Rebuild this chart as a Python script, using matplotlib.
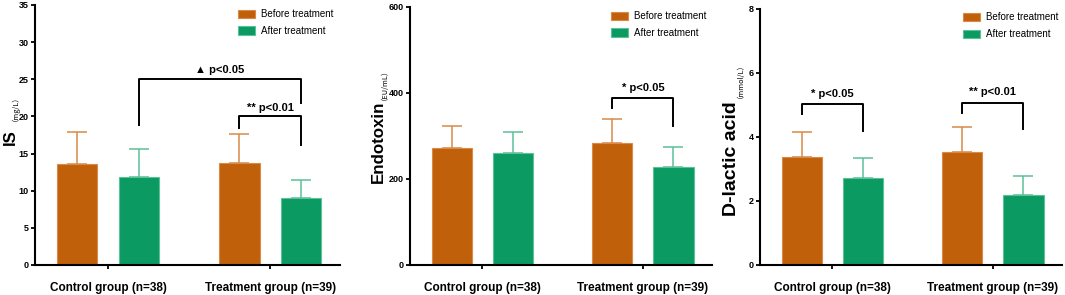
import numpy as np
import matplotlib.pyplot as plt

plt.rcParams['font.family'] = ['Liberation Sans', 'DejaVu Sans']

# ---- data ----
groups = ["Control group (n=38)", "Treatment group (n=39)"]
series = ["Before treatment", "After treatment"]

is_before = [13.6, 13.7]
is_before_sd = [4.3, 3.9]
is_after = [11.8, 9.0]
is_after_sd = [3.8, 2.4]

endo_before = [271, 284]
endo_before_sd = [53, 55]
endo_after = [261, 227]
endo_after_sd = [49, 47]

dla_before = [3.37, 3.54]
dla_before_sd = [0.78, 0.77]
dla_after = [2.71, 2.18]
dla_after_sd = [0.62, 0.60]

orange = "#C0600A"
green = "#0A9A62"
orange_edge = "#D98A48"
green_edge = "#5CC09A"

fig = plt.figure(figsize=(10.65, 2.95), dpi=100)

# axes rect, label/unit positions (axes coords) and sizes per panel
panels = [
    dict(rect=[35/1065, 30/295, 305/1065, 260/295], before=is_before, bsd=is_before_sd,
         after=is_after, asd=is_after_sd, ymax=35, step=5,
         label="IS", lsize=12, lpos=(-0.082, 0.49),
         unit="（mg/L）", upos=(-0.077, 0.615), leg=(0.666, 0.984)),
    dict(rect=[410/1065, 30/295, 302/1065, 258/295], before=endo_before, bsd=endo_before_sd,
         after=endo_after, asd=endo_after_sd, ymax=600, step=200,
         label="Endotoxin", lsize=12.2, lpos=(-0.104, 0.479),
         unit="（EU/mL）", upos=(-0.095, 0.715), leg=(0.666, 0.984)),
    dict(rect=[760/1065, 30/295, 302/1065, 256/295], before=dla_before, bsd=dla_before_sd,
         after=dla_after, asd=dla_after_sd, ymax=8, step=2,
         label="D-lactic acid", lsize=14, lpos=(-0.093, 0.414),
         unit="（mmol/L）", upos=(-0.078, 0.735), leg=(0.672, 0.9875)),
]

x = np.arange(len(groups))
off = 0.19
w = 0.25

axes = []
for p in panels:
    ax = fig.add_axes(p["rect"])
    axes.append(ax)
    ax.bar(x - off, p["before"], w, color=orange, edgecolor=orange_edge, linewidth=0.8,
           label=series[0], zorder=2)
    ax.bar(x + off, p["after"], w, color=green, edgecolor=green_edge, linewidth=0.8,
           label=series[1], zorder=2)
    ax.errorbar(x - off, p["before"], yerr=[np.zeros(2), p["bsd"]], fmt="none",
                ecolor=orange_edge, elinewidth=1.1, capsize=7.5, capthick=1.1, zorder=1)
    ax.errorbar(x + off, p["after"], yerr=[np.zeros(2), p["asd"]], fmt="none",
                ecolor=green_edge, elinewidth=1.1, capsize=7.5, capthick=1.1, zorder=1)
    ax.set_xlim(-0.45, 1.43)
    ax.set_ylim(0, p["ymax"])
    ax.set_yticks(np.arange(0, p["ymax"] + p["step"] / 2, p["step"]))
    ax.set_xticks(x)
    ax.set_xticklabels(groups, fontsize=8.5, fontweight="bold")
    for t in ax.get_yticklabels():
        t.set_fontsize(6.5)
        t.set_fontweight("bold")
    ax.tick_params(axis="both", width=1.3, length=3, pad=1.5)
    ax.tick_params(axis="x", pad=9)
    for s in ["top", "right"]:
        ax.spines[s].set_visible(False)
    for s in ["left", "bottom"]:
        ax.spines[s].set_linewidth(1.5)
    ax.text(p["lpos"][0], p["lpos"][1], p["label"], transform=ax.transAxes,
            rotation=90, fontsize=p["lsize"], fontweight="bold", ha="center", va="center")
    ax.text(p["upos"][0], p["upos"][1], p["unit"], transform=ax.transAxes,
            rotation=90, fontsize=5.3, ha="center", va="center",
            family=["Noto Sans CJK SC", "DejaVu Sans"])
    ax.legend(loc="upper left", bbox_to_anchor=p["leg"], frameon=False, fontsize=7,
              handlelength=1.75, handleheight=0.93, handletextpad=0.6, labelspacing=0.7,
              borderpad=0, borderaxespad=0)


def bracket(ax, x1, x2, top, l1, l2, text, ty):
    ax.plot([x1, x1, x2, x2], [l1, top, top, l2], color="black", lw=1.4, zorder=3)
    ax.text((x1 + x2) / 2, ty, text, ha="center", va="center", fontsize=8, fontweight="bold")


bracket(axes[0], x[0] + off, x[1] + off, 25.0, 18.8, 21.8, "▲ p<0.05", 26.3)
bracket(axes[0], x[1] - off, x[1] + off, 20.0, 18.5, 16.1, "** p<0.01", 21.2)
bracket(axes[1], x[1] - off, x[1] + off, 389, 364, 324, "* p<0.05", 411)
bracket(axes[2], x[0] - off, x[0] + off, 5.03, 4.72, 4.19, "* p<0.05", 5.35)
bracket(axes[2], x[1] - off, x[1] + off, 5.07, 4.76, 4.24, "** p<0.01", 5.4)

fig.savefig("out.png", dpi=100)
